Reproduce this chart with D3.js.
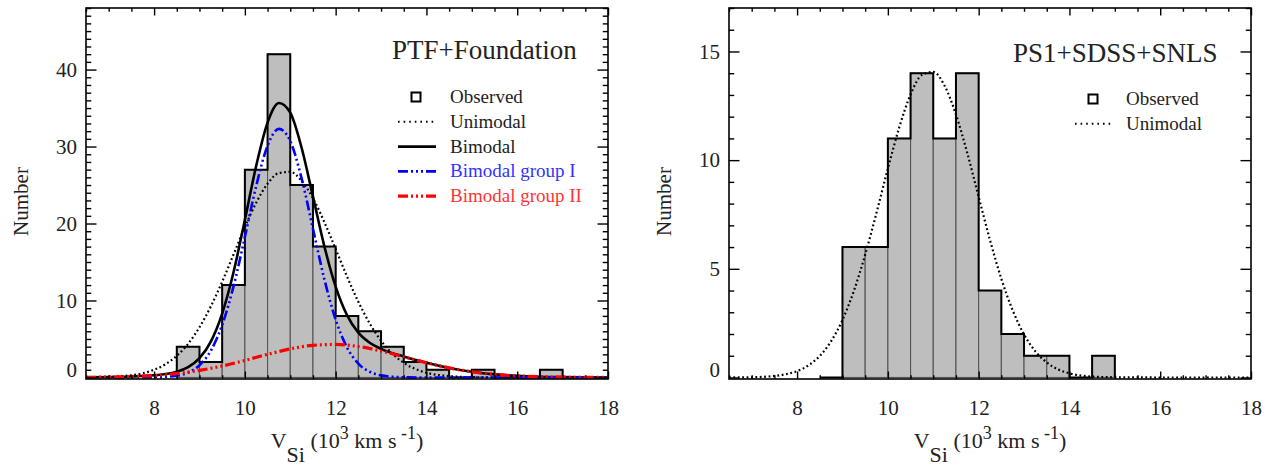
<!DOCTYPE html>
<html><head><meta charset="utf-8">
<script src="https://cdn.jsdelivr.net/npm/d3@7/dist/d3.min.js"></script>
<style>
html,body{margin:0;padding:0;background:#fff;}
svg{display:block;}
text{font-family:"Liberation Serif","Times New Roman",serif;fill:#222;}
</style></head>
<body>
<svg id="chart" width="1277" height="468"></svg>
<script>
// ---------------- data ----------------
const binWidth = 0.5;
// left panel (PTF+Foundation)
const leftBins   = [8.5, 9.0, 9.5, 10.0, 10.5, 11.0, 11.5, 12.0, 12.5, 13.0, 13.5, 14.0, 14.5, 15.0, 15.5, 16.0, 16.5];
const leftCounts = [4,   2,   12,  27,   42,   25,   17,   8,    6,    4,    2,    1,    0,    1,    0,    0,    1];

const leftUniX = [6.5,7.0,7.25,7.5,7.75,8.0,8.25,8.5,8.75,9.0,9.25,9.5,9.75,10.0,10.25,10.5,10.75,11.0,11.25,11.5,11.75,12.0,12.25,12.5,12.75,13.0,13.25,13.5,13.75,14.0,14.5,15.0,16.0,18.0];
const leftUniY = [0.01,0.07,0.15,0.29,0.55,1.0,1.72,2.81,4.38,6.52,9.23,12.44,15.97,19.52,22.71,25.17,26.56,26.70,25.54,23.28,20.2,16.69,13.12,9.83,7.02,4.77,3.08,1.90,1.11,0.62,0.17,0.04,0,0];

const leftBiX = [6.5,7.0,7.5,8.0,8.5,8.75,9.0,9.25,9.5,9.75,10.0,10.25,10.5,10.75,11.0,11.25,11.5,11.75,12.0,12.25,12.5,12.75,13.0,13.5,14.0,14.5,15.0,15.5,16.0,16.5,17.0,18.0];
const leftBiY = [0.02,0.05,0.12,0.28,0.73,1.33,2.50,4.66,8.30,13.67,20.46,27.50,33.11,35.66,34.41,29.84,23.50,17.07,11.80,8.10,5.82,4.51,3.71,2.71,1.91,1.24,0.74,0.40,0.20,0.09,0.04,0];

const leftG1X = [6.5,8.0,8.5,8.75,9.0,9.25,9.5,9.75,10.0,10.25,10.5,10.75,11.0,11.25,11.5,11.75,12.0,12.25,12.5,12.75,13.0,13.5,14.0,18.0];
const leftG1Y = [0,0.02,0.22,0.63,1.58,3.48,6.81,11.83,18.24,24.89,30.11,32.29,30.70,25.86,19.32,12.79,7.51,3.90,1.80,0.74,0.27,0.02,0,0];

const leftG2X = [6.5,7.0,7.5,8.0,8.5,9.0,9.5,10.0,10.5,11.0,11.5,12.0,12.5,13.0,13.5,14.0,14.5,15.0,15.5,16.0,16.5,17.0,18.0];
const leftG2Y = [0.02,0.05,0.12,0.26,0.51,0.92,1.49,2.22,3.00,3.71,4.18,4.29,4.02,3.44,2.69,1.91,1.24,0.74,0.40,0.20,0.09,0.04,0];

// right panel (PS1+SDSS+SNLS)
const rightBins   = [8.5, 9.0, 9.5, 10.0, 10.5, 11.0, 11.5, 12.0, 12.5, 13.0, 13.5, 14.0, 14.5];
const rightCounts = [0,   6,   6,   11,   14,   11,   14,   4,    2,    1,    1,    0,    1];

const rightUniX = [6.5,7.0,7.5,7.75,8.0,8.25,8.5,8.75,9.0,9.25,9.5,9.75,10.0,10.25,10.5,10.75,11.0,11.25,11.5,11.75,12.0,12.25,12.5,12.75,13.0,13.25,13.5,13.75,14.0,14.5,15.0,16.0,18.0];
const rightUniY = [0,0.01,0.07,0.15,0.29,0.56,0.99,1.67,2.65,3.98,5.65,7.58,9.61,11.50,13.02,13.92,14.06,13.42,12.10,10.32,8.31,6.32,4.54,3.09,1.98,1.20,0.69,0.37,0.19,0.04,0.01,0,0];

// axes
const xTicksMajor = [8, 10, 12, 14, 16, 18];
const leftYTicks  = [0, 10, 20, 30, 40];
const rightYTicks = [0, 5, 10, 15];

const leftTitle  = "PTF+Foundation";
const rightTitle = "PS1+SDSS+SNLS";
const leftLegend  = ["Observed", "Unimodal", "Bimodal", "Bimodal group I", "Bimodal group II"];
const rightLegend = ["Observed", "Unimodal"];

// ---------------- styles ----------------
const ST = {
  dotted:  {stroke:"#000", width:2.2, dash:"1.8,2.6"},
  solid:   {stroke:"#000", width:2.6, dash:null},
  blue:    {stroke:"#0000ff", width:2.6, dash:"10,3,2,3,2,3,2,3"},
  red:     {stroke:"#ff0000", width:3.2, dash:"10,3,2,3,2,3,2,3"}
};
const legDotted = {stroke:"#000", width:2, dash:"1.6,4"};

const svg = d3.select("#chart");

function panel(opt){
  const g = svg.append("g");
  const x = d3.scaleLinear([6.5, 18], [opt.x0, opt.x1]);
  const y = d3.scaleLinear([opt.ymin, opt.ymax], [opt.y1, opt.y0]);
  const clipId = "clip" + opt.id;
  svg.append("clipPath").attr("id", clipId).append("rect")
     .attr("x", opt.x0).attr("y", opt.y0).attr("width", opt.x1 - opt.x0).attr("height", opt.y1 - opt.y0);

  // histogram bars
  const bars = opt.bins.map((b,i)=>({b, c: opt.counts[i]}));
  g.append("g").selectAll("rect").data(bars.filter(d=>d.c>0)).join("rect")
    .attr("x", d=>x(d.b)).attr("width", d=>x(d.b+binWidth)-x(d.b))
    .attr("y", d=>y(d.c)).attr("height", d=>y(0)-y(d.c))
    .attr("fill", "#bebebe").attr("stroke", "#555").attr("stroke-width", 1.1);
  // step outline
  const pts = [[opt.bins[0], 0]];
  bars.forEach(d=>{ pts.push([d.b, d.c]); pts.push([d.b+binWidth, d.c]); });
  pts.push([opt.bins[opt.bins.length-1]+binWidth, 0]);
  g.append("path").attr("d", d3.line().x(d=>x(d[0])).y(d=>y(d[1]))(pts))
    .attr("fill","none").attr("stroke","#000").attr("stroke-width",2);

  // curves
  const cg = g.append("g").attr("clip-path", `url(#${clipId})`);
  const lineGen = d3.line().curve(d3.curveMonotoneX).x(d=>x(d[0])).y(d=>y(d[1]));
  opt.curves.forEach(c=>{
    const data = c.xs.map((v,i)=>[v, c.ys[i]]);
    cg.append("path").attr("d", lineGen(data))
      .attr("fill","none").attr("stroke", c.st.stroke).attr("stroke-width", c.st.width)
      .attr("stroke-dasharray", c.st.dash);
  });

  // axes (ticks inward on all 4 sides)
  const minorX = d3.range(6.5, 18.001, 0.5).filter(v=>!xTicksMajor.includes(v));
  const minorY = d3.range(0, opt.ymax + 0.001, 1).filter(v=>!opt.yticks.includes(v));
  const xLen = 7.5, yLen = 10.5;
  function ax(axisFn, scale, values, len, tr, labels){
    const a = axisFn(scale).tickValues(values).tickSize(-len).tickSizeOuter(0);
    if(!labels) a.tickFormat("");
    const s = g.append("g").attr("transform", tr).call(a);
    s.select(".domain").remove();
    s.selectAll(".tick line").attr("stroke","#000").attr("stroke-width",1.4);
    return s;
  }
  // bottom
  const bx = ax(d3.axisBottom, x, xTicksMajor, xLen, `translate(0,${opt.y1})`, true);
  bx.selectAll("text").attr("font-size",21).attr("fill","#222").attr("y",21);
  ax(d3.axisBottom, x, minorX, xLen/2, `translate(0,${opt.y1})`, false);
  // top
  ax(d3.axisTop, x, xTicksMajor, xLen, `translate(0,${opt.y0})`, false);
  ax(d3.axisTop, x, minorX, xLen/2, `translate(0,${opt.y0})`, false);
  // left
  const ly = ax(d3.axisLeft, y, opt.yticks, yLen, `translate(${opt.x0},0)`, true);
  ly.selectAll("text").attr("font-size",21).attr("fill","#222").attr("x",-9);
  ly.selectAll(".tick").filter(d=>d===0).select("text").attr("dy","-0.05em");
  ax(d3.axisLeft, y, minorY, yLen/2, `translate(${opt.x0},0)`, false);
  // right
  ax(d3.axisRight, y, opt.yticks, yLen, `translate(${opt.x1},0)`, false);
  ax(d3.axisRight, y, minorY, yLen/2, `translate(${opt.x1},0)`, false);

  // frame
  g.append("rect").attr("x",opt.x0).attr("y",opt.y0).attr("width",opt.x1-opt.x0).attr("height",opt.y1-opt.y0)
    .attr("fill","none").attr("stroke","#000").attr("stroke-width",1.6);

  // axis titles
  const xc = (opt.x0 + opt.x1)/2;
  const t = g.append("text").attr("x", xc).attr("y", 448).attr("text-anchor","middle").attr("font-size",22);
  t.append("tspan").text("V");
  t.append("tspan").attr("dy",14).text("Si");
  t.append("tspan").attr("dy",-14).text(" (10");
  t.append("tspan").attr("dy",-9).attr("font-size",18).text("3");
  t.append("tspan").attr("dy",9).text(" km s");
  t.append("tspan").attr("dy",-9).attr("font-size",18).text(" -1");
  t.append("tspan").attr("dy",9).text(")");

  g.append("text").attr("transform",`translate(${opt.x0-58},${(opt.y0+opt.y1)/2+8}) rotate(-90)`)
    .attr("text-anchor","middle").attr("font-size",21).text("Number");

  // title
  g.append("text").attr("x", opt.titleX).attr("y", opt.titleY).attr("font-size",27).text(opt.title);

  // legend
  const lg = g.append("g");
  opt.legend.forEach((name,i)=>{
    const yy = opt.legY + i*24.8;
    if(i===0){
      lg.append("rect").attr("x", opt.legSymX-4.5).attr("y", yy-4.5).attr("width",9).attr("height",9)
        .attr("fill","#fff").attr("stroke","#000").attr("stroke-width",2);
    } else {
      const st = opt.legStyles[i];
      lg.append("line").attr("x1", opt.legSymX-18).attr("x2", opt.legSymX+20).attr("y1",yy).attr("y2",yy)
        .attr("stroke", st.stroke).attr("stroke-width", st.width).attr("stroke-dasharray", st.dash);
    }
    lg.append("text").attr("x", opt.legTextX).attr("y", yy+6).attr("font-size",19)
      .style("fill", opt.legColors[i]).text(name);
  });
}

panel({id:"L", x0:86, x1:608, y0:8, y1:379, ymin:-0.2, ymax:48, yticks:leftYTicks,
  bins:leftBins, counts:leftCounts,
  curves:[{xs:leftUniX, ys:leftUniY, st:ST.dotted},{xs:leftBiX, ys:leftBiY, st:ST.solid},
          {xs:leftG1X, ys:leftG1Y, st:ST.blue},{xs:leftG2X, ys:leftG2Y, st:ST.red}],
  title:leftTitle, titleX:392, titleY:59,
  legend:leftLegend, legY:97, legSymX:416, legTextX:450,
  legStyles:[null, legDotted, ST.solid, ST.blue, ST.red],
  legColors:["#222","#222","#222","#3333ff","#ff3333"]});

panel({id:"R", x0:729, x1:1251, y0:8, y1:379, ymin:-0.07, ymax:17, yticks:rightYTicks,
  bins:rightBins, counts:rightCounts,
  curves:[{xs:rightUniX, ys:rightUniY, st:ST.dotted}],
  title:rightTitle, titleX:1013, titleY:62,
  legend:rightLegend, legY:99, legSymX:1093, legTextX:1126,
  legStyles:[null, legDotted],
  legColors:["#222","#222"]});
</script>
</body></html>
